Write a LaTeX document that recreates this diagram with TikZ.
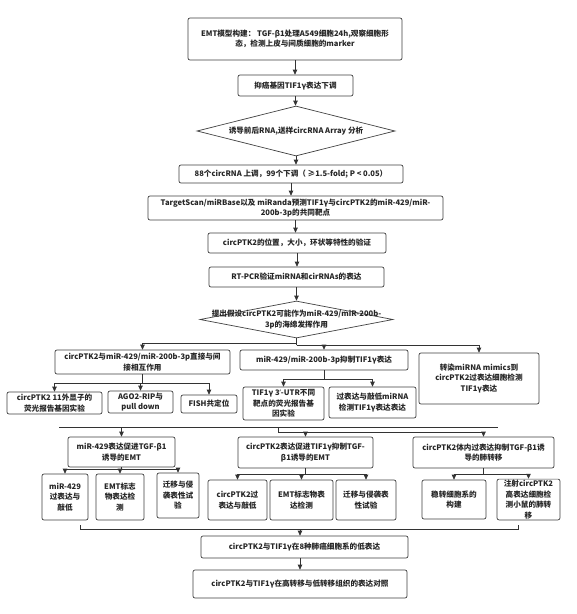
\documentclass[tikz,border=0pt]{standalone}
\usepackage{fontspec}
\setmainfont{Noto Sans CJK SC}
\newfontfamily\ap{Noto Sans}
\usetikzlibrary{arrows.meta,shapes.geometric,calc}
\newcommand{\fs}{\fontsize{7.6}{10.5}\selectfont\bfseries}
\newcommand{\bx}[6]{\node[box, minimum width=#4pt, minimum height=#5pt] (#1) at (#2,#3) {#6};}
\begin{document}
\begin{tikzpicture}[x=1pt,y=-1pt,
  box/.style={draw=black!75, line width=0.7pt, rounded corners=2pt, fill=white, align=center, inner sep=1pt, font=\fs, text=black!85},
  dia/.style={draw=black!75, line width=0.7pt, diamond, inner sep=0pt, fill=white},
  ln/.style={draw=black!80, line width=0.7pt},
  arr/.style={ln, -{Triangle[length=5pt,width=4.5pt]}}]
\useasboundingbox (0,0) rectangle (577,614);
\fill[white] (0,0) rectangle (577,614);
% main column
\bx{top}{295}{39}{214}{42}{EMT模型构建： TGF-β1处理A549细胞24h,观察细胞形\\态，检测上皮与间质细胞的marker}
\bx{b2}{295.5}{85.5}{115}{21}{抑癌基因TIF1γ表达下调}
\node[dia, minimum width=198pt, minimum height=50pt, label={[font=\fs, text=black!85]center:{诱导前后RNA,送样circRNA Array 分析}}] (d1) at (296,131) {};
\bx{b3}{291}{174}{224}{18}{88个circRNA 上调，99个下调（ ≥1.5-fold; P < 0.05）}
\bx{b4}{295.5}{208}{295}{24}{TargetScan/miRBase以及 miRanda预测TIF1γ与circPTK2的miR-429/miR-\\200b-3p的共同靶点}
\bx{b5}{297}{243}{178}{20}{circPTK2的位置，大小，环状等特性的验证}
\bx{b6}{296.5}{277}{175}{20}{RT-PCR验证miRNA和cirRNAs的表达}
\node[dia, minimum width=193pt, minimum height=37pt, label={[font=\fs, text=black!85, align=center]center:{提出假设circPTK2可能作为miR-429/miR-200b-\\3p的海绵发挥作用}}] (d2) at (296.5,319.5) {};
% row 2
\bx{A}{142.5}{362}{175}{24}{circPTK2与miR-429/miR-200b-3p直接与间\\接相互作用}
\bx{B}{324}{360}{168}{20}{miR-429/miR-200b-3p抑制TIF1γ表达}
\bx{C}{479}{378.5}{120}{51}{转染miRNA mimics到\\circPTK2过表达细胞检测\\TIF1γ表达}
\bx{A1}{54.5}{403}{95}{22}{circPTK2 11外显子的\\荧光报告基因实验}
\bx{A2}{140.5}{402}{65}{22}{AGO2-RIP与\\pull down}
\bx{A3}{209}{404}{56}{18}{FISH共定位}
\bx{B1}{283.5}{403.5}{81}{33}{TIF1γ 3{\ap ’}-UTR不同\\靶点的荧光报告基\\因实验}
\bx{B2}{372.5}{402.5}{87}{31}{过表达与敲低miRNA\\检测TIF1γ表达表达}
% row 3
\bx{D}{121.5}{452}{107}{30}{miR-429表达促进TGF-β1\\诱导的EMT}
\bx{E}{305.5}{452.5}{135}{31}{circPTK2表达促进TIF1γ抑制TGF-\\β1诱导的EMT}
\bx{F}{483.5}{452.5}{141}{31}{circPTK2体内过表达抑制TGF-β1诱\\导的肺转移}
\bx{D1}{65}{497}{46}{46}{miR-429\\过表达与\\敲低}
\bx{D2}{120}{497}{48}{46}{EMT标志\\物表达检\\测}
\bx{D3}{178}{495.5}{42}{45}{迁移与侵\\袭表性试\\验}
\bx{E1}{237.5}{500}{59}{40}{circPTK2过\\表达与敲低}
\bx{E2}{301.5}{500}{63}{40}{EMT标志物表\\达检测}
\bx{E3}{366}{500}{60}{40}{迁移与侵袭表\\性试验}
\bx{F1}{454}{499.5}{64}{39}{稳转细胞系的\\构建}
\bx{F2}{528.5}{499.5}{63}{39}{注射circPTK2\\高表达细胞检\\测小鼠的肺转\\移}
% bottom
\bx{G}{304.5}{547}{207}{22}{circPTK2与TIF1γ在8种肺癌细胞系的低表达}
\bx{H}{300}{584}{214}{28}{circPTK2与TIF1γ在高转移与低转移组织的表达对照}
% connectors main column
\draw[arr] (top.south) -- (top.south |- b2.north);
\draw[arr] (b2.south) -- (b2.south |- d1.north);
\draw[arr] (d1.south) -- (d1.south |- b3.north);
\draw[arr] (b3.south) -- (b3.south |- b4.north);
\draw[arr] (b4.south) -- (b4.south |- b5.north);
\draw[arr] (b5.south) -- (b5.south |- b6.north);
\draw[arr] (b6.south) -- (b6.south |- d2.north);
% branch from d2
\coordinate (j1) at (296.5,345);
\coordinate (j1a) at (296.5,343);
\draw[ln] (d2.south) -- (j1);
\draw[arr] (j1a) -| (A.north);
\draw[arr] (j1) -| (B.north);
\draw[arr] (j1) -| (C.north);
% A children
\coordinate (jA) at (142.5,383);
\draw[ln] (A.south) -- (jA);
\draw[arr] (jA) -| (A1.north);
\draw[arr] (jA) -| (A2.north);
\draw[arr] (jA) -| (A3.north);
% B children
\coordinate (jB) at (324,379);
\draw[ln] (B.south) -- (jB);
\draw[arr] (jB) -| (B1.north);
\draw[arr] (jB) -| (B2.north);
% bracket before row 3
\coordinate (L1) at (59,427);
\coordinate (R1) at (498,427);
\coordinate (jM) at (278,427);
\coordinate (jM2) at (278,432);
\draw[ln] (L1) -- (R1);
\draw[ln] (jM) -- (jM2);
\draw[arr] (D.north |- L1) -- (D.north);
\draw[arr] (jM2) -| (E.north);
\draw[arr] (jM2) -| (F.north);
% D children
\coordinate (jD) at (121.5,469);
\draw[ln] (D.south) -- (jD);
\draw[arr] (jD) -| (D1.north);
\draw[arr] (jD) -| (D2.north);
\draw[arr] (jD) -| (D3.north);
% E children
\coordinate (jE) at (305.5,474);
\draw[ln] (E.south) -- (jE);
\draw[arr] (jE) -| (E1.north);
\draw[arr] (jE) -| (E2.north);
\draw[arr] (jE) -| (E3.north);
% F children
\coordinate (jF) at (483.5,474);
\draw[ln] (F.south) -- (jF);
\draw[arr] (jF) -| (F1.north);
\draw[arr] (jF) -| (F2.north);
% bottom bracket
\coordinate (L2) at (80,525);
\coordinate (R2) at (518,525);
\coordinate (jG) at (300,529);
\draw[ln] (L2) -- (80,529) -- (518,529) -- (R2);
\draw[arr] (jG) -- (jG |- G.north);
\draw[arr] (G.south -| H.north) -- (H.north);
\end{tikzpicture}
\end{document}
